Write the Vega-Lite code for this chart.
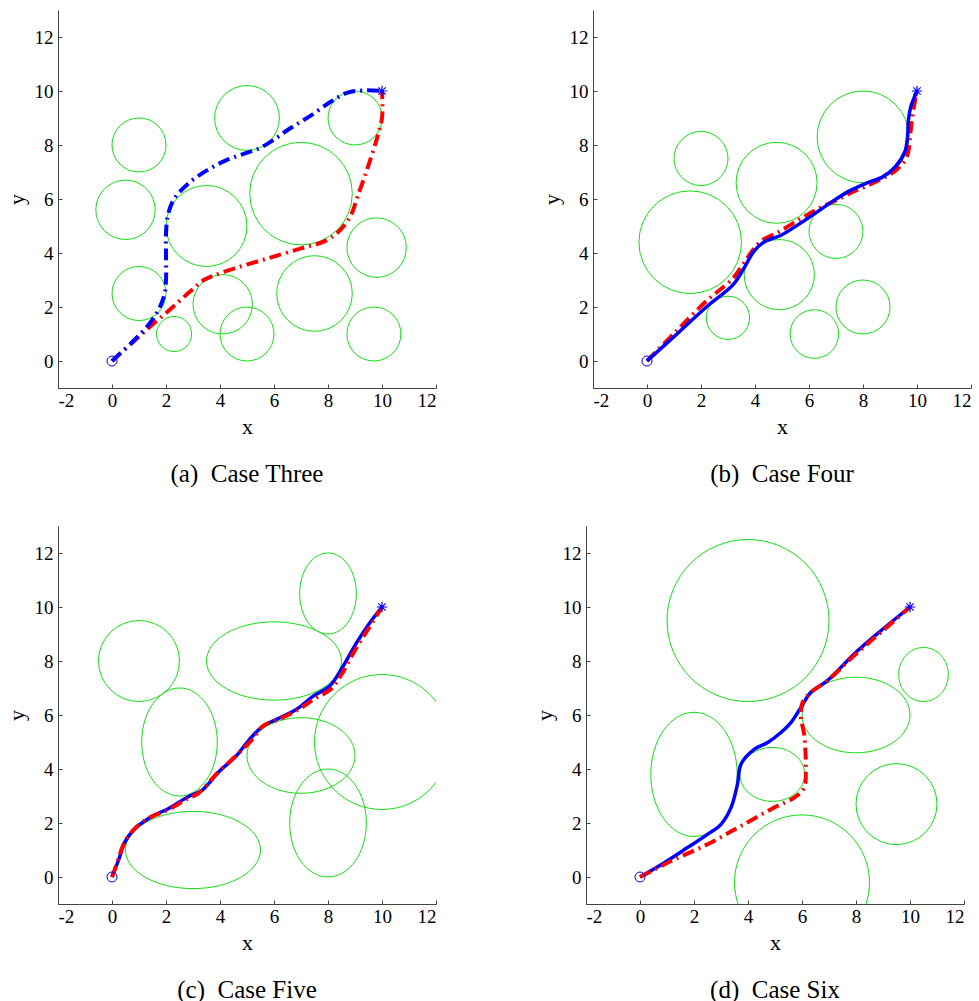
{
  "$schema": "https://vega.github.io/schema/vega-lite/v6.json",
  "padding": {"left": 5, "top": 10, "right": 5, "bottom": 5},
  "background": "white",
  "config": {
    "view": {"stroke": null},
    "font": "Liberation Serif",
    "axis": {
      "grid": false, "domainColor": "#444", "tickColor": "#444", "tickSize": -4,
      "labelFont": "Liberation Serif", "labelFontSize": 19, "labelColor": "#000",
      "titleFont": "Liberation Serif", "titleFontSize": 22, "titleFontWeight": "normal", "titleColor": "#000"
    },
    "axisX": {"titlePadding": 6, "labelPadding": 7},
    "axisY": {"titlePadding": 6, "labelPadding": 9},
    "title": {"orient": "bottom", "font": "Liberation Serif", "fontSize": 25, "fontWeight": "normal", "color": "#000", "offset": 25, "anchor": "middle", "letterSpacing": 1}
  },
  "datasets": {
    "obs": [
      {"p": "a", "id": "a1", "x": 1, "y": 8, "rx": 1, "ry": 1},
      {"p": "a", "id": "a2", "x": 0.5, "y": 5.6, "rx": 1.1, "ry": 1.1},
      {"p": "a", "id": "a3", "x": 1, "y": 2.5, "rx": 1, "ry": 1},
      {"p": "a", "id": "a4", "x": 2.3, "y": 1, "rx": 0.65, "ry": 0.65},
      {"p": "a", "id": "a5", "x": 4.1, "y": 2.1, "rx": 1.1, "ry": 1.1},
      {"p": "a", "id": "a6", "x": 5, "y": 1, "rx": 1, "ry": 1},
      {"p": "a", "id": "a7", "x": 3.5, "y": 5, "rx": 1.5, "ry": 1.5},
      {"p": "a", "id": "a8", "x": 5, "y": 9, "rx": 1.2, "ry": 1.2},
      {"p": "a", "id": "a9", "x": 7, "y": 6.2, "rx": 1.9, "ry": 1.9},
      {"p": "a", "id": "a10", "x": 9, "y": 9, "rx": 1, "ry": 1},
      {"p": "a", "id": "a11", "x": 9.8, "y": 4.2, "rx": 1.1, "ry": 1.1},
      {"p": "a", "id": "a12", "x": 7.5, "y": 2.5, "rx": 1.4, "ry": 1.4},
      {"p": "a", "id": "a13", "x": 9.7, "y": 1, "rx": 1, "ry": 1},
      {"p": "b", "id": "b1", "x": 2, "y": 7.5, "rx": 1, "ry": 1},
      {"p": "b", "id": "b2", "x": 1.6, "y": 4.4, "rx": 1.9, "ry": 1.9},
      {"p": "b", "id": "b3", "x": 4.8, "y": 6.6, "rx": 1.5, "ry": 1.5},
      {"p": "b", "id": "b4", "x": 8, "y": 8.3, "rx": 1.7, "ry": 1.7},
      {"p": "b", "id": "b5", "x": 7, "y": 4.8, "rx": 1, "ry": 1},
      {"p": "b", "id": "b6", "x": 4.9, "y": 3.2, "rx": 1.3, "ry": 1.3},
      {"p": "b", "id": "b7", "x": 3, "y": 1.6, "rx": 0.8, "ry": 0.8},
      {"p": "b", "id": "b8", "x": 6.2, "y": 1, "rx": 0.9, "ry": 0.9},
      {"p": "b", "id": "b9", "x": 8, "y": 2, "rx": 1, "ry": 1},
      {"p": "c", "id": "c1", "x": 1, "y": 8, "rx": 1.5, "ry": 1.5},
      {"p": "c", "id": "c2", "x": 2.5, "y": 5, "rx": 1.4, "ry": 2},
      {"p": "c", "id": "c3", "x": 6, "y": 8, "rx": 2.5, "ry": 1.45},
      {"p": "c", "id": "c4", "x": 8, "y": 10.5, "rx": 1.05, "ry": 1.5},
      {"p": "c", "id": "c5", "x": 10, "y": 5, "rx": 2.5, "ry": 2.5},
      {"p": "c", "id": "c6", "x": 7, "y": 4.5, "rx": 2, "ry": 1.4},
      {"p": "c", "id": "c7", "x": 8, "y": 2, "rx": 1.42, "ry": 2},
      {"p": "c", "id": "c8", "x": 3, "y": 1, "rx": 2.5, "ry": 1.43},
      {"p": "d", "id": "d1", "x": 4, "y": 9.5, "rx": 3, "ry": 3},
      {"p": "d", "id": "d2", "x": 10.5, "y": 7.5, "rx": 0.92, "ry": 1},
      {"p": "d", "id": "d3", "x": 8, "y": 6, "rx": 2, "ry": 1.4},
      {"p": "d", "id": "d4", "x": 2, "y": 3.8, "rx": 1.6, "ry": 2.3},
      {"p": "d", "id": "d5", "x": 4.9, "y": 3.8, "rx": 1.2, "ry": 1},
      {"p": "d", "id": "d6", "x": 9.5, "y": 2.7, "rx": 1.5, "ry": 1.5},
      {"p": "d", "id": "d7", "x": 6, "y": -0.2, "rx": 2.5, "ry": 2.5}
    ],
    "path": [
      {"p": "a", "planner": "P1", "x": 0, "y": 0},
      {"p": "a", "planner": "P1", "x": 0.8, "y": 0.75},
      {"p": "a", "planner": "P1", "x": 1.4, "y": 1.4},
      {"p": "a", "planner": "P1", "x": 1.75, "y": 1.95},
      {"p": "a", "planner": "P1", "x": 1.95, "y": 2.5},
      {"p": "a", "planner": "P1", "x": 2.0, "y": 3.0},
      {"p": "a", "planner": "P1", "x": 2.0, "y": 4.0},
      {"p": "a", "planner": "P1", "x": 2.0, "y": 4.7},
      {"p": "a", "planner": "P1", "x": 2.07, "y": 5.4},
      {"p": "a", "planner": "P1", "x": 2.3, "y": 6.0},
      {"p": "a", "planner": "P1", "x": 2.8, "y": 6.55},
      {"p": "a", "planner": "P1", "x": 3.5, "y": 7.05},
      {"p": "a", "planner": "P1", "x": 4.2, "y": 7.42},
      {"p": "a", "planner": "P1", "x": 4.9, "y": 7.68},
      {"p": "a", "planner": "P1", "x": 5.4, "y": 7.85},
      {"p": "a", "planner": "P1", "x": 6.0, "y": 8.2},
      {"p": "a", "planner": "P1", "x": 6.6, "y": 8.62},
      {"p": "a", "planner": "P1", "x": 7.3, "y": 9.05},
      {"p": "a", "planner": "P1", "x": 8.1, "y": 9.6},
      {"p": "a", "planner": "P1", "x": 8.7, "y": 9.93},
      {"p": "a", "planner": "P1", "x": 9.3, "y": 10.02},
      {"p": "a", "planner": "P1", "x": 10, "y": 10},
      {"p": "a", "planner": "P2", "x": 0, "y": 0},
      {"p": "a", "planner": "P2", "x": 0.8, "y": 0.72},
      {"p": "a", "planner": "P2", "x": 1.5, "y": 1.35},
      {"p": "a", "planner": "P2", "x": 2.2, "y": 1.95},
      {"p": "a", "planner": "P2", "x": 2.9, "y": 2.58},
      {"p": "a", "planner": "P2", "x": 3.4, "y": 3.0},
      {"p": "a", "planner": "P2", "x": 3.8, "y": 3.18},
      {"p": "a", "planner": "P2", "x": 4.6, "y": 3.45},
      {"p": "a", "planner": "P2", "x": 5.7, "y": 3.78},
      {"p": "a", "planner": "P2", "x": 7.0, "y": 4.17},
      {"p": "a", "planner": "P2", "x": 7.9, "y": 4.45},
      {"p": "a", "planner": "P2", "x": 8.45, "y": 4.85},
      {"p": "a", "planner": "P2", "x": 8.85, "y": 5.4},
      {"p": "a", "planner": "P2", "x": 9.1, "y": 6.1},
      {"p": "a", "planner": "P2", "x": 9.45, "y": 7.1},
      {"p": "a", "planner": "P2", "x": 9.8, "y": 8.2},
      {"p": "a", "planner": "P2", "x": 10, "y": 9.0},
      {"p": "a", "planner": "P2", "x": 10, "y": 10},
      {"p": "b", "planner": "P1", "x": 0, "y": 0},
      {"p": "b", "planner": "P1", "x": 1.1, "y": 0.99},
      {"p": "b", "planner": "P1", "x": 2.2, "y": 2.0},
      {"p": "b", "planner": "P1", "x": 3.2, "y": 2.84},
      {"p": "b", "planner": "P1", "x": 3.6, "y": 3.45},
      {"p": "b", "planner": "P1", "x": 3.95, "y": 4.05},
      {"p": "b", "planner": "P1", "x": 4.35, "y": 4.42},
      {"p": "b", "planner": "P1", "x": 4.95, "y": 4.65},
      {"p": "b", "planner": "P1", "x": 5.6, "y": 5.05},
      {"p": "b", "planner": "P1", "x": 6.2, "y": 5.45},
      {"p": "b", "planner": "P1", "x": 6.9, "y": 5.93},
      {"p": "b", "planner": "P1", "x": 7.5, "y": 6.3},
      {"p": "b", "planner": "P1", "x": 8.2, "y": 6.62},
      {"p": "b", "planner": "P1", "x": 8.7, "y": 6.8},
      {"p": "b", "planner": "P1", "x": 9.2, "y": 7.2},
      {"p": "b", "planner": "P1", "x": 9.55, "y": 7.75},
      {"p": "b", "planner": "P1", "x": 9.65, "y": 8.3},
      {"p": "b", "planner": "P1", "x": 9.68, "y": 8.9},
      {"p": "b", "planner": "P1", "x": 9.78, "y": 9.45},
      {"p": "b", "planner": "P1", "x": 10, "y": 10},
      {"p": "b", "planner": "P2", "x": 0, "y": 0},
      {"p": "b", "planner": "P2", "x": 1.1, "y": 1.12},
      {"p": "b", "planner": "P2", "x": 2.2, "y": 2.22},
      {"p": "b", "planner": "P2", "x": 3.2, "y": 3.08},
      {"p": "b", "planner": "P2", "x": 3.7, "y": 3.8},
      {"p": "b", "planner": "P2", "x": 4.2, "y": 4.42},
      {"p": "b", "planner": "P2", "x": 4.95, "y": 4.82},
      {"p": "b", "planner": "P2", "x": 5.65, "y": 5.25},
      {"p": "b", "planner": "P2", "x": 6.3, "y": 5.62},
      {"p": "b", "planner": "P2", "x": 7.0, "y": 5.95},
      {"p": "b", "planner": "P2", "x": 7.6, "y": 6.25},
      {"p": "b", "planner": "P2", "x": 8.0, "y": 6.42},
      {"p": "b", "planner": "P2", "x": 8.6, "y": 6.7},
      {"p": "b", "planner": "P2", "x": 9.2, "y": 7.05},
      {"p": "b", "planner": "P2", "x": 9.62, "y": 7.55},
      {"p": "b", "planner": "P2", "x": 9.75, "y": 8.4},
      {"p": "b", "planner": "P2", "x": 9.85, "y": 9.2},
      {"p": "b", "planner": "P2", "x": 10, "y": 10},
      {"p": "c", "planner": "P1", "x": 0, "y": 0},
      {"p": "c", "planner": "P1", "x": 0.24, "y": 0.62},
      {"p": "c", "planner": "P1", "x": 0.48, "y": 1.3},
      {"p": "c", "planner": "P1", "x": 0.8, "y": 1.74},
      {"p": "c", "planner": "P1", "x": 1.35, "y": 2.17},
      {"p": "c", "planner": "P1", "x": 2.1, "y": 2.54},
      {"p": "c", "planner": "P1", "x": 2.84, "y": 2.98},
      {"p": "c", "planner": "P1", "x": 3.34, "y": 3.22},
      {"p": "c", "planner": "P1", "x": 3.96, "y": 3.9},
      {"p": "c", "planner": "P1", "x": 4.58, "y": 4.46},
      {"p": "c", "planner": "P1", "x": 5.08, "y": 5.08},
      {"p": "c", "planner": "P1", "x": 5.58, "y": 5.58},
      {"p": "c", "planner": "P1", "x": 6.2, "y": 5.89},
      {"p": "c", "planner": "P1", "x": 6.82, "y": 6.2},
      {"p": "c", "planner": "P1", "x": 7.44, "y": 6.69},
      {"p": "c", "planner": "P1", "x": 8.06, "y": 7.07},
      {"p": "c", "planner": "P1", "x": 8.56, "y": 7.81},
      {"p": "c", "planner": "P1", "x": 9.06, "y": 8.68},
      {"p": "c", "planner": "P1", "x": 9.55, "y": 9.42},
      {"p": "c", "planner": "P1", "x": 10, "y": 10},
      {"p": "c", "planner": "P2", "x": 0, "y": 0},
      {"p": "c", "planner": "P2", "x": 0.2, "y": 0.55},
      {"p": "c", "planner": "P2", "x": 0.45, "y": 1.25},
      {"p": "c", "planner": "P2", "x": 0.85, "y": 1.8},
      {"p": "c", "planner": "P2", "x": 1.4, "y": 2.2},
      {"p": "c", "planner": "P2", "x": 2.1, "y": 2.5},
      {"p": "c", "planner": "P2", "x": 2.8, "y": 2.9},
      {"p": "c", "planner": "P2", "x": 3.2, "y": 3.1},
      {"p": "c", "planner": "P2", "x": 3.9, "y": 3.85},
      {"p": "c", "planner": "P2", "x": 4.6, "y": 4.5},
      {"p": "c", "planner": "P2", "x": 5.2, "y": 5.1},
      {"p": "c", "planner": "P2", "x": 5.6, "y": 5.6},
      {"p": "c", "planner": "P2", "x": 6.2, "y": 5.85},
      {"p": "c", "planner": "P2", "x": 6.9, "y": 6.2},
      {"p": "c", "planner": "P2", "x": 7.5, "y": 6.6},
      {"p": "c", "planner": "P2", "x": 8.1, "y": 6.95},
      {"p": "c", "planner": "P2", "x": 8.5, "y": 7.5},
      {"p": "c", "planner": "P2", "x": 9.0, "y": 8.4},
      {"p": "c", "planner": "P2", "x": 9.5, "y": 9.2},
      {"p": "c", "planner": "P2", "x": 10, "y": 10},
      {"p": "d", "planner": "P1", "x": 0, "y": 0},
      {"p": "d", "planner": "P1", "x": 0.9, "y": 0.53},
      {"p": "d", "planner": "P1", "x": 1.76, "y": 1.09},
      {"p": "d", "planner": "P1", "x": 2.5, "y": 1.58},
      {"p": "d", "planner": "P1", "x": 3.0, "y": 1.95},
      {"p": "d", "planner": "P1", "x": 3.37, "y": 2.57},
      {"p": "d", "planner": "P1", "x": 3.61, "y": 3.44},
      {"p": "d", "planner": "P1", "x": 3.74, "y": 4.18},
      {"p": "d", "planner": "P1", "x": 4.23, "y": 4.73},
      {"p": "d", "planner": "P1", "x": 4.73, "y": 4.98},
      {"p": "d", "planner": "P1", "x": 5.22, "y": 5.35},
      {"p": "d", "planner": "P1", "x": 5.59, "y": 5.72},
      {"p": "d", "planner": "P1", "x": 5.96, "y": 6.28},
      {"p": "d", "planner": "P1", "x": 6.33, "y": 6.84},
      {"p": "d", "planner": "P1", "x": 6.94, "y": 7.27},
      {"p": "d", "planner": "P1", "x": 7.93, "y": 8.26},
      {"p": "d", "planner": "P1", "x": 8.92, "y": 9.12},
      {"p": "d", "planner": "P1", "x": 10, "y": 10},
      {"p": "d", "planner": "P2", "x": 0, "y": 0},
      {"p": "d", "planner": "P2", "x": 1.15, "y": 0.59},
      {"p": "d", "planner": "P2", "x": 2.5, "y": 1.21},
      {"p": "d", "planner": "P2", "x": 3.74, "y": 1.89},
      {"p": "d", "planner": "P2", "x": 4.97, "y": 2.57},
      {"p": "d", "planner": "P2", "x": 5.71, "y": 2.94},
      {"p": "d", "planner": "P2", "x": 6.08, "y": 3.31},
      {"p": "d", "planner": "P2", "x": 6.14, "y": 4.05},
      {"p": "d", "planner": "P2", "x": 6.08, "y": 5.29},
      {"p": "d", "planner": "P2", "x": 5.96, "y": 5.91},
      {"p": "d", "planner": "P2", "x": 6.02, "y": 6.46},
      {"p": "d", "planner": "P2", "x": 6.33, "y": 6.84},
      {"p": "d", "planner": "P2", "x": 6.94, "y": 7.27},
      {"p": "d", "planner": "P2", "x": 7.93, "y": 8.2},
      {"p": "d", "planner": "P2", "x": 8.92, "y": 9.06},
      {"p": "d", "planner": "P2", "x": 10, "y": 10}
    ],
    "ends": [
      {"p": "a", "kind": "start", "x": 0, "y": 0}, {"p": "a", "kind": "goal", "x": 10, "y": 10},
      {"p": "b", "kind": "start", "x": 0, "y": 0}, {"p": "b", "kind": "goal", "x": 10, "y": 10},
      {"p": "c", "kind": "start", "x": 0, "y": 0}, {"p": "c", "kind": "goal", "x": 10, "y": 10},
      {"p": "d", "kind": "start", "x": 0, "y": 0}, {"p": "d", "kind": "goal", "x": 10, "y": 10}
    ]
  },
  "resolve": {"scale": {"shape": "independent", "size": "independent"}},
  "spacing": 39,
  "vconcat": [
    {
      "hconcat": [
        {
          "width": 378, "height": 378,
          "title": "(a)\u00a0 Case Three",
          "encoding": {
            "x": {"field": "x", "type": "quantitative", "scale": {"domain": [-2, 12], "nice": false, "zero": false}, "axis": {"values": [-2, 0, 2, 4, 6, 8, 10, 12], "labelExpr": "'' + datum.value"}},
            "y": {"field": "y", "type": "quantitative", "scale": {"domain": [-1, 13], "nice": false, "zero": false}, "axis": {"values": [0, 2, 4, 6, 8, 10, 12], "labelExpr": "'' + datum.value"}}
          },
          "layer": [
            {"data": {"name": "obs"}, "transform": [{"filter": "datum.p === 'a'"}],
             "mark": {"type": "point", "shape": "circle", "filled": false, "color": "#11e011", "strokeWidth": 1, "opacity": 1, "clip": true},
             "encoding": {"size": {"field": "rx", "type": "quantitative", "scale": {"type": "pow", "exponent": 2, "domain": [0, 10], "range": [0, 291600]}, "legend": null}}},
            {"data": {"name": "path"}, "transform": [{"filter": "datum.p === 'a' && datum.planner === 'P2'"}],
             "mark": {"type": "line", "color": "#ff0000", "strokeWidth": 4, "strokeDash": [12, 5, 2, 5], "interpolate": "catmull-rom"},
             "encoding": {"order": {"value": null}}},
            {"data": {"name": "path"}, "transform": [{"filter": "datum.p === 'a' && datum.planner === 'P1'"}],
             "mark": {"type": "line", "color": "#0000ff", "strokeWidth": 4, "strokeDash": [12, 5, 2, 5], "interpolate": "catmull-rom"},
             "encoding": {"order": {"value": null}}},
            {"data": {"name": "ends"}, "transform": [{"filter": "datum.p === 'a' && datum.kind === 'start'"}],
             "mark": {"type": "point", "shape": "circle", "filled": false, "color": "#0000ff", "size": 100, "strokeWidth": 1, "opacity": 1}},
            {"data": {"name": "ends"}, "transform": [{"filter": "datum.p === 'a' && datum.kind === 'goal'"}],
             "mark": {"type": "point", "shape": "M-1,0L1,0M0,-1L0,1M-0.7,-0.7L0.7,0.7M-0.7,0.7L0.7,-0.7", "filled": false, "color": "#0000ff", "size": 110, "strokeWidth": 1.2, "opacity": 1}}
          ]
        },
        {
          "width": 378, "height": 378,
          "title": "(b)\u00a0 Case Four",
          "encoding": {
            "x": {"field": "x", "type": "quantitative", "scale": {"domain": [-2, 12], "nice": false, "zero": false}, "axis": {"values": [-2, 0, 2, 4, 6, 8, 10, 12], "labelExpr": "'' + datum.value"}},
            "y": {"field": "y", "type": "quantitative", "scale": {"domain": [-1, 13], "nice": false, "zero": false}, "axis": {"values": [0, 2, 4, 6, 8, 10, 12], "labelExpr": "'' + datum.value"}}
          },
          "layer": [
            {"data": {"name": "obs"}, "transform": [{"filter": "datum.p === 'b'"}],
             "mark": {"type": "point", "shape": "circle", "filled": false, "color": "#11e011", "strokeWidth": 1, "opacity": 1, "clip": true},
             "encoding": {"size": {"field": "rx", "type": "quantitative", "scale": {"type": "pow", "exponent": 2, "domain": [0, 10], "range": [0, 291600]}, "legend": null}}},
            {"data": {"name": "path"}, "transform": [{"filter": "datum.p === 'b' && datum.planner === 'P2'"}],
             "mark": {"type": "line", "color": "#ff0000", "strokeWidth": 4, "strokeDash": [12, 5, 2, 5], "interpolate": "catmull-rom"},
             "encoding": {"order": {"value": null}}},
            {"data": {"name": "path"}, "transform": [{"filter": "datum.p === 'b' && datum.planner === 'P1'"}],
             "mark": {"type": "line", "color": "#0000ff", "strokeWidth": 3.5, "interpolate": "catmull-rom"},
             "encoding": {"order": {"value": null}}},
            {"data": {"name": "ends"}, "transform": [{"filter": "datum.p === 'b' && datum.kind === 'start'"}],
             "mark": {"type": "point", "shape": "circle", "filled": false, "color": "#0000ff", "size": 100, "strokeWidth": 1, "opacity": 1}},
            {"data": {"name": "ends"}, "transform": [{"filter": "datum.p === 'b' && datum.kind === 'goal'"}],
             "mark": {"type": "point", "shape": "M-1,0L1,0M0,-1L0,1M-0.7,-0.7L0.7,0.7M-0.7,0.7L0.7,-0.7", "filled": false, "color": "#0000ff", "size": 110, "strokeWidth": 1.2, "opacity": 1}}
          ]
        }
      ],
      "spacing": 157,
      "bounds": "flush",
      "resolve": {"scale": {"shape": "independent", "size": "independent"}}
    },
    {
      "hconcat": [
        {
          "width": 378, "height": 378,
          "title": "(c)\u00a0 Case Five",
          "encoding": {
            "x": {"field": "x", "type": "quantitative", "scale": {"domain": [-2, 12], "nice": false, "zero": false}, "axis": {"values": [-2, 0, 2, 4, 6, 8, 10, 12], "labelExpr": "'' + datum.value"}},
            "y": {"field": "y", "type": "quantitative", "scale": {"domain": [-1, 13], "nice": false, "zero": false}, "axis": {"values": [0, 2, 4, 6, 8, 10, 12], "labelExpr": "'' + datum.value"}}
          },
          "layer": [
            {"data": {"name": "obs"}, "transform": [{"filter": "datum.p === 'c'"}],
             "mark": {"type": "point", "filled": false, "color": "#11e011", "strokeWidth": 1, "opacity": 1, "clip": true},
             "encoding": {
               "size": {"field": "rx", "type": "quantitative", "scale": {"type": "pow", "exponent": 2, "domain": [0, 10], "range": [0, 291600]}, "legend": null},
               "shape": {"field": "id", "type": "nominal", "legend": null, "scale": {
                 "domain": ["c1", "c2", "c3", "c4", "c5", "c6", "c7", "c8"],
                 "range": [
                   "circle",
                   "M-1,0A1,1.429,0,1,1,1,0A1,1.429,0,1,1,-1,0Z",
                   "M-1,0A1,0.58,0,1,1,1,0A1,0.58,0,1,1,-1,0Z",
                   "M-1,0A1,1.429,0,1,1,1,0A1,1.429,0,1,1,-1,0Z",
                   "circle",
                   "M-1,0A1,0.7,0,1,1,1,0A1,0.7,0,1,1,-1,0Z",
                   "M-1,0A1,1.408,0,1,1,1,0A1,1.408,0,1,1,-1,0Z",
                   "M-1,0A1,0.572,0,1,1,1,0A1,0.572,0,1,1,-1,0Z"
                 ]}}
             }},
            {"data": {"name": "path"}, "transform": [{"filter": "datum.p === 'c' && datum.planner === 'P1'"}],
             "mark": {"type": "line", "color": "#0000ff", "strokeWidth": 3.5, "interpolate": "catmull-rom"},
             "encoding": {"order": {"value": null}}},
            {"data": {"name": "path"}, "transform": [{"filter": "datum.p === 'c' && datum.planner === 'P2'"}],
             "mark": {"type": "line", "color": "#ff0000", "strokeWidth": 4, "strokeDash": [12, 5, 2, 5], "interpolate": "catmull-rom"},
             "encoding": {"order": {"value": null}}},
            {"data": {"name": "ends"}, "transform": [{"filter": "datum.p === 'c' && datum.kind === 'start'"}],
             "mark": {"type": "point", "shape": "circle", "filled": false, "color": "#0000ff", "size": 100, "strokeWidth": 1, "opacity": 1}},
            {"data": {"name": "ends"}, "transform": [{"filter": "datum.p === 'c' && datum.kind === 'goal'"}],
             "mark": {"type": "point", "shape": "M-1,0L1,0M0,-1L0,1M-0.7,-0.7L0.7,0.7M-0.7,0.7L0.7,-0.7", "filled": false, "color": "#0000ff", "size": 110, "strokeWidth": 1.2, "opacity": 1}}
          ]
        },
        {
          "width": 378, "height": 378,
          "title": "(d)\u00a0 Case Six",
          "encoding": {
            "x": {"field": "x", "type": "quantitative", "scale": {"domain": [-2, 12], "nice": false, "zero": false}, "axis": {"values": [-2, 0, 2, 4, 6, 8, 10, 12], "labelExpr": "'' + datum.value"}},
            "y": {"field": "y", "type": "quantitative", "scale": {"domain": [-1, 13], "nice": false, "zero": false}, "axis": {"values": [0, 2, 4, 6, 8, 10, 12], "labelExpr": "'' + datum.value"}}
          },
          "layer": [
            {"data": {"name": "obs"}, "transform": [{"filter": "datum.p === 'd'"}],
             "mark": {"type": "point", "filled": false, "color": "#11e011", "strokeWidth": 1, "opacity": 1, "clip": true},
             "encoding": {
               "size": {"field": "rx", "type": "quantitative", "scale": {"type": "pow", "exponent": 2, "domain": [0, 10], "range": [0, 291600]}, "legend": null},
               "shape": {"field": "id", "type": "nominal", "legend": null, "scale": {
                 "domain": ["d1", "d2", "d3", "d4", "d5", "d6", "d7"],
                 "range": [
                   "circle",
                   "M-1,0A1,1.087,0,1,1,1,0A1,1.087,0,1,1,-1,0Z",
                   "M-1,0A1,0.7,0,1,1,1,0A1,0.7,0,1,1,-1,0Z",
                   "M-1,0A1,1.4375,0,1,1,1,0A1,1.4375,0,1,1,-1,0Z",
                   "M-1,0A1,0.833,0,1,1,1,0A1,0.833,0,1,1,-1,0Z",
                   "circle",
                   "circle"
                 ]}}
             }},
            {"data": {"name": "path"}, "transform": [{"filter": "datum.p === 'd' && datum.planner === 'P1'"}],
             "mark": {"type": "line", "color": "#0000ff", "strokeWidth": 3.5, "interpolate": "catmull-rom"},
             "encoding": {"order": {"value": null}}},
            {"data": {"name": "path"}, "transform": [{"filter": "datum.p === 'd' && datum.planner === 'P2'"}],
             "mark": {"type": "line", "color": "#ff0000", "strokeWidth": 4, "strokeDash": [12, 5, 2, 5], "interpolate": "catmull-rom"},
             "encoding": {"order": {"value": null}}},
            {"data": {"name": "ends"}, "transform": [{"filter": "datum.p === 'd' && datum.kind === 'start'"}],
             "mark": {"type": "point", "shape": "circle", "filled": false, "color": "#0000ff", "size": 100, "strokeWidth": 1, "opacity": 1}},
            {"data": {"name": "ends"}, "transform": [{"filter": "datum.p === 'd' && datum.kind === 'goal'"}],
             "mark": {"type": "point", "shape": "M-1,0L1,0M0,-1L0,1M-0.7,-0.7L0.7,0.7M-0.7,0.7L0.7,-0.7", "filled": false, "color": "#0000ff", "size": 110, "strokeWidth": 1.2, "opacity": 1}}
          ]
        }
      ],
      "spacing": 150,
      "bounds": "flush",
      "resolve": {"scale": {"shape": "independent", "size": "independent"}}
    }
  ]
}
